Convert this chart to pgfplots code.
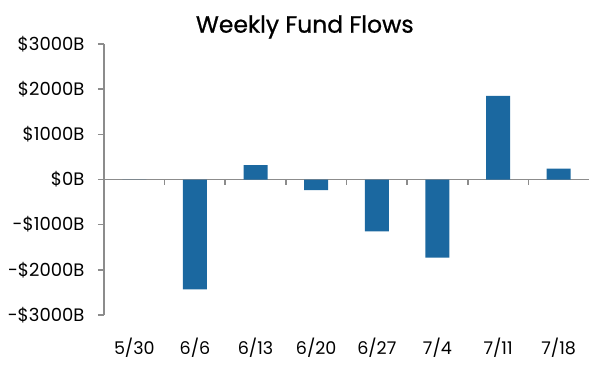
\documentclass[border=0pt]{standalone}
\usepackage{pgfplots}
\pgfplotsset{compat=1.18}
\usepackage{fontspec}
\setmainfont{Poppins}
\newfontfamily\titlefont[FakeBold=0.8]{Poppins}
\definecolor{barblue}{RGB}{27,104,160}
\definecolor{axgray}{RGB}{140,140,140}
\begin{document}
\begin{tikzpicture}
\begin{axis}[
  scale only axis,
  width=485pt, height=271pt,
  xmin=-0.5, xmax=7.5,
  ymin=-3000, ymax=3000,
  axis x line=middle,
  axis y line=left,
  x axis line style={-, axgray, line width=1.6pt},
  y axis line style={-, axgray, line width=1.6pt},
  xtick={0,1,2,3,4,5,6,7},
  xticklabels={5/30,6/6,6/13,6/20,6/27,7/4,7/11,7/18},
  major x tick style={draw=none},
  minor xtick={0.5,1.5,2.5,3.5,4.5,5.5,6.5},
  minor x tick style={axgray, line width=1.6pt},
  minor tick length=5pt,
  tick align=outside,
  xticklabel style={font=\fontsize{17.5}{20}\selectfont, anchor=north, yshift=-149pt},
  ytick={-3000,-2000,-1000,0,1000,2000,3000},
  yticklabels={-\$3000B,-\$2000B,-\$1000B,\$0B,\$1000B,\$2000B,\$3000B},
  major y tick style={axgray, line width=1.6pt},
  major tick length=6pt,
  yticklabel style={font=\fontsize{18}{20}\selectfont, xshift=-10pt},
  ybar, bar width=24pt,
  clip=false,
]
\addplot[fill=barblue, draw=none] coordinates {
  (0,0) (1,-2430) (2,320) (3,-235) (4,-1150) (5,-1730) (6,1850) (7,240)
};
\coordinate (sw) at (rel axis cs:0,0);
\coordinate (ne) at (rel axis cs:1,1);
\node[font=\titlefont\fontsize{23.5}{26}\selectfont] at ([yshift=17pt]rel axis cs:0.414,1) {Weekly Fund Flows};
\end{axis}
\pgfresetboundingbox
\path[use as bounding box] ([xshift=-104pt,yshift=-60pt]sw) rectangle ([yshift=44pt]ne);
\end{tikzpicture}
\end{document}
